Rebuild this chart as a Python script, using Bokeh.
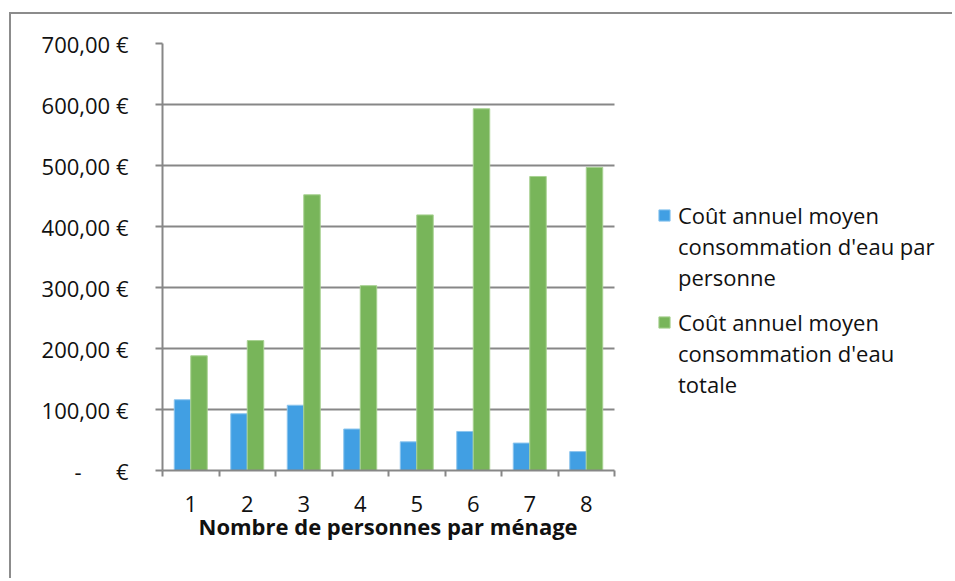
from bokeh.plotting import figure
from bokeh.models import FixedTicker, Legend, LegendItem, ColumnDataSource, Range1d, Title
from bokeh.transform import dodge
from bokeh.embed import file_html
from bokeh.resources import INLINE

households = [1, 2, 3, 4, 5, 6, 7, 8]
x_tick_labels = ["1", "2", "3", "4", "5", "6", "7", "8"]
cost_per_person = [116, 93, 107, 68, 47, 64, 45, 31]
cost_total = [188, 213, 452, 303, 419, 593, 482, 497]
y_ticks = [0, 100, 200, 300, 400, 500, 600, 700]
y_tick_labels = ["-\u00a0\u00a0\u00a0\u00a0\u00a0\u00a0€", "100,00 €", "200,00 €", "300,00 €",
                 "400,00 €", "500,00 €", "600,00 €", "700,00 €"]
series_lines = [["Coût annuel moyen", "consommation d'eau par", "personne"],
                ["Coût annuel moyen", "consommation d'eau", "totale"]]
x_axis_title = "Nombre de personnes par ménage"

FONT = "Open Sans"
GRAY = "#878787"
TEXT = "#111111"
BLUE = "#419FE3"
GREEN = "#78B55A"

W, H = 943, 566
LEFT, TOP, BOTTOM = 151, 29, 110
FRAME_W = W - LEFT
DATA_W = 452  # pixel width of the category area
x_lo = households[0] - 0.5
x_hi = households[-1] + 0.5
x_end = x_lo + FRAME_W * (x_hi - x_lo) / DATA_W

src = ColumnDataSource(dict(x=households, a=cost_per_person, b=cost_total))

p = figure(width=W, height=H, output_backend="svg", toolbar_location=None,
           x_range=Range1d(x_lo, x_end), y_range=Range1d(0, 700),
           min_border_left=LEFT, min_border_right=0, min_border_top=TOP,
           min_border_bottom=BOTTOM)
p.styles = {"position": "relative", "left": "9px", "top": "12px",
            "border-top": "2px solid #8c8c8c", "border-left": "2px solid #8c8c8c"}
p.outline_line_color = None
p.background_fill_color = "white"
p.border_fill_color = "white"

r1 = p.vbar(x=dodge("x", -0.146), top="a", width=0.292, source=src,
            fill_color=BLUE, line_color="#8cc5ee", line_width=1)
r2 = p.vbar(x=dodge("x", 0.146), top="b", width=0.292, source=src,
            fill_color=GREEN, line_color="#a8d292", line_width=1)
blank = p.vbar(x=[], top=[], width=0.292, fill_alpha=0, line_alpha=0)

# y axis
p.yaxis.ticker = FixedTicker(ticks=y_ticks, minor_ticks=[])
p.yaxis.major_label_overrides = {t: l for t, l in zip(y_ticks, y_tick_labels)}
p.yaxis.axis_line_color = GRAY
p.yaxis.axis_line_width = 2
p.yaxis.major_tick_line_color = GRAY
p.yaxis.major_tick_line_width = 2
p.yaxis.major_tick_out = 7
p.yaxis.major_tick_in = 0
p.yaxis.major_label_standoff = 27
p.yaxis.major_label_text_font = FONT
p.yaxis.major_label_text_font_size = "22px"
p.yaxis.major_label_text_color = TEXT

# x axis
p.xaxis.bounds = (x_lo, x_hi)
p.xaxis.ticker = FixedTicker(ticks=households,
                             minor_ticks=[h - 0.5 for h in households] + [x_hi])
p.xaxis.major_label_overrides = {h: l for h, l in zip(households, x_tick_labels)}
p.xaxis.axis_line_color = GRAY
p.xaxis.axis_line_width = 2
p.xaxis.major_tick_line_color = None
p.xaxis.minor_tick_line_color = GRAY
p.xaxis.minor_tick_line_width = 2
p.xaxis.minor_tick_out = 6
p.xaxis.minor_tick_in = 0
p.xaxis.major_label_standoff = 19
p.xaxis.major_label_text_font = FONT
p.xaxis.major_label_text_font_size = "22px"
p.xaxis.major_label_text_color = TEXT

# x-axis title, centred under the category area
p.add_layout(Title(text=x_axis_title, align="left", offset=36, standoff=-12,
                   text_font=FONT, text_font_style="bold", text_font_size="22px",
                   text_color=TEXT), "below")

p.xgrid.grid_line_color = None
p.ygrid.ticker = FixedTicker(ticks=y_ticks)
p.ygrid.grid_line_color = GRAY
p.ygrid.grid_line_width = 2
p.ygrid.cross_bounds = (x_lo, x_hi)


def make_legend(lines, renderer, loc):
    items = [LegendItem(label=lines[0], renderers=[renderer])]
    items += [LegendItem(label=t, renderers=[blank]) for t in lines[1:]]
    return Legend(items=items, location=loc, orientation="vertical",
                  border_line_color=None, background_fill_color=None,
                  padding=0, margin=0, spacing=0,
                  glyph_width=14, glyph_height=14, label_height=31,
                  label_standoff=7, label_text_font=FONT,
                  label_text_font_size="22px", label_text_color=TEXT)


p.add_layout(make_legend(series_lines[0], r1, (495, 178)), "center")
p.add_layout(make_legend(series_lines[1], r2, (495, 71)), "center")

open("out.html", "w").write(file_html(p, INLINE))
